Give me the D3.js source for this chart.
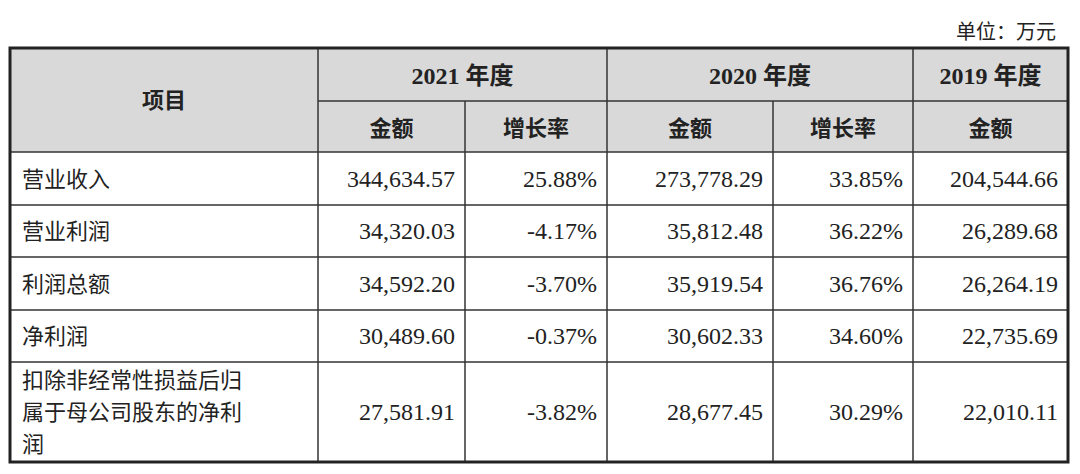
<!DOCTYPE html>
<html><head><meta charset="utf-8">
<script src="https://cdn.jsdelivr.net/npm/d3@7"></script>
<style>body{margin:0;background:#fff}</style>
</head><body><main></main>
<script>
// table content
const items = ['营业收入', '营业利润', '利润总额', '净利润', '扣除非经常性损益后归|属于母公司股东的净利|润'];
const amount2021 = ['344,634.57', '34,320.03', '34,592.20', '30,489.60', '27,581.91'];
const growth2021 = ['25.88%', '-4.17%', '-3.70%', '-0.37%', '-3.82%'];
const amount2020 = ['273,778.29', '35,812.48', '35,919.54', '30,602.33', '28,677.45'];
const growth2020 = ['33.85%', '36.22%', '36.76%', '34.60%', '30.29%'];
const amount2019 = ['204,544.66', '26,289.68', '26,264.19', '22,735.69', '22,010.11'];
const yearHeaders = ['2021 年度', '2020 年度', '2019 年度'];
const subHeaders = ['金额', '增长率', '金额', '增长率', '金额'];

const width = 1080, height = 474;
const colEdges = [10, 318, 465, 607, 773, 913, 1068];
const rowEdges = [48, 101, 152, 205, 257, 310, 362, 462];
const font = '"Liberation Serif", "Noto Sans CJK SC", serif';
const cjk = '"Noto Sans CJK SC", sans-serif';

const svg = d3.select('main').append('svg')
  .attr('width', width).attr('height', height);

// unit label
svg.append('text').text('单位：万元')
  .attr('x', 1056).attr('y', 39).attr('text-anchor', 'end')
  .attr('font-family', cjk).attr('font-size', 20).attr('fill', '#222');

// header background
svg.append('rect')
  .attr('x', colEdges[0]).attr('y', rowEdges[0])
  .attr('width', colEdges[6] - colEdges[0]).attr('height', rowEdges[2] - rowEdges[0])
  .attr('fill', '#d9d9d9');

const line = (x1, y1, x2, y2, w = 1.5) => svg.append('line')
  .attr('x1', x1).attr('y1', y1).attr('x2', x2).attr('y2', y2)
  .attr('stroke', '#333').attr('stroke-width', w);

// horizontal lines
rowEdges.slice(1, -1).forEach((y, i) => {
  line(i === 0 ? colEdges[1] : colEdges[0], y, colEdges[6], y);
});
// vertical lines
line(colEdges[1], rowEdges[0], colEdges[1], rowEdges[7]);
line(colEdges[2], rowEdges[1], colEdges[2], rowEdges[7]);
line(colEdges[3], rowEdges[0], colEdges[3], rowEdges[7]);
line(colEdges[4], rowEdges[1], colEdges[4], rowEdges[7]);
line(colEdges[5], rowEdges[0], colEdges[5], rowEdges[7]);

// outer border
svg.append('rect')
  .attr('x', colEdges[0]).attr('y', rowEdges[0])
  .attr('width', colEdges[6] - colEdges[0]).attr('height', rowEdges[7] - rowEdges[0])
  .attr('fill', 'none').attr('stroke', '#222').attr('stroke-width', 3);

const txt = (s, x, y, anchor, opts = {}) => svg.append('text').text(s)
  .attr('x', x).attr('y', y).attr('text-anchor', anchor)
  .attr('font-family', opts.family || font).attr('font-size', opts.size || 24)
  .attr('font-weight', opts.bold ? 'bold' : 'normal').attr('fill', '#222');

// headers
txt('项目', (colEdges[0] + colEdges[1]) / 2, 108, 'middle', { bold: true, family: cjk, size: 22 });
const yearSpans = [[1, 3], [3, 5], [5, 6]];
yearHeaders.forEach((h, i) => {
  const [a, b] = yearSpans[i];
  txt(h, (colEdges[a] + colEdges[b]) / 2, 84, 'middle', { bold: true });
});
subHeaders.forEach((h, i) => {
  txt(h, (colEdges[i + 1] + colEdges[i + 2]) / 2, 136, 'middle', { bold: true, family: cjk, size: 22 });
});

// body rows
const columns = [amount2021, growth2021, amount2020, growth2020, amount2019];
items.forEach((item, r) => {
  const y0 = rowEdges[r + 2], y1 = rowEdges[r + 3];
  const mid = (y0 + y1) / 2 + 8;
  const parts = item.split('|');
  parts.forEach((p, k) => {
    txt(p, 22, mid + (k - (parts.length - 1) / 2) * 32, 'start', { family: cjk, size: 22 });
  });
  columns.forEach((col, c) => {
    txt(col[r], colEdges[c + 2] - 10, mid, 'end');
  });
});
</script>
</body></html>
